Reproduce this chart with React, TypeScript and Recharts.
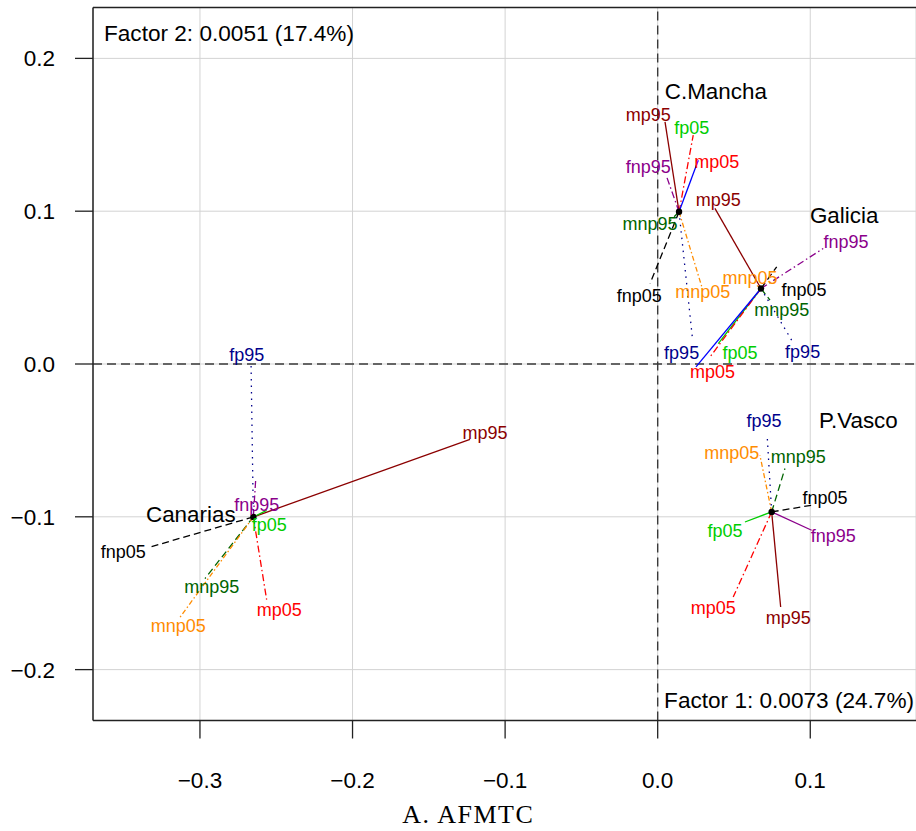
import { ScatterChart, Scatter, XAxis, YAxis, CartesianGrid, ReferenceLine } from "recharts";

const variables = ["mp95", "fp05", "mp05", "fnp95", "mnp95", "fnp05", "mnp05", "fp95"];
const groups = ["C.Mancha", "Galicia", "P.Vasco", "Canarias"];

// group centres and where their names sit
const groupX = [0.014, 0.0677, 0.0747, -0.265];
const groupY = [0.0996, 0.0494, -0.0968, -0.1001];
const groupLabelX = [0.0381, 0.1222, 0.1315, -0.306];
const groupLabelY = [0.1787, 0.0974, -0.0368, -0.0983];

// partial points (segment ends), same order as variables
const cmanchaEnds = [[0.0048, 0.1585], [0.0233, 0.1498], [0.0266, 0.1334], [0.0059, 0.1225], [0.008, 0.0935], [-0.005, 0.0527], [0.0288, 0.0509], [0.0229, 0.0156]];
const galiciaEnds = [[0.0375, 0.1018], [0.0397, 0.0134], [0.0343, 0.0046], [0.1085, 0.0756], [0.0736, 0.0418], [0.078, 0.0636], [0.0638, 0.0522], [0.0878, 0.0156]];
const pvascoEnds = [[0.0806, -0.159], [0.0572, -0.1034], [0.0495, -0.1525], [0.1009, -0.1088], [0.0834, -0.0684], [0.1009, -0.0924], [0.067, -0.0597], [0.0718, -0.0477]];
const canariasEnds = [[-0.123, -0.0494], [-0.2563, -0.0958], [-0.2563, -0.1542], [-0.2635, -0.0761], [-0.2967, -0.1404], [-0.3338, -0.1201], [-0.313, -0.1656], [-0.2665, -0.0008]];

// label points
const cmanchaLabels = [[-0.0062, 0.1629], [0.0223, 0.1548], [0.0387, 0.1323], [-0.0062, 0.129], [-0.005, 0.0915], [-0.0121, 0.0444], [0.0295, 0.0472], [0.0157, 0.0073]];
const galiciaLabels = [[0.0397, 0.1072], [0.0539, 0.0073], [0.036, -0.0052], [0.1234, 0.0799], [0.0813, 0.0357], [0.0959, 0.0488], [0.0605, 0.0566], [0.095, 0.0079]];
const pvascoLabels = [[0.0856, -0.166], [0.0441, -0.1088], [0.0364, -0.1594], [0.1151, -0.1121], [0.0921, -0.0608], [0.1096, -0.0874], [0.0485, -0.0582], [0.0697, -0.0368]];
const canariasLabels = [[-0.1132, -0.0451], [-0.2545, -0.1049], [-0.248, -0.1607], [-0.2628, -0.0918], [-0.2923, -0.1459], [-0.3502, -0.1226], [-0.3142, -0.171], [-0.2693, 0.0058]];

// extra unlabeled blue segment out of Galicia
const extraBlueEnd = [0.0251, -0.0019];

const xTicks = [-0.3, -0.2, -0.1, 0, 0.1];
const yTicks = [-0.2, -0.1, 0, 0.1, 0.2];
const X_MIN = -0.3701;
const X_MAX = 0.1693;
const Y_MIN = -0.2333;
const Y_MAX = 0.2333;

const allEnds = [cmanchaEnds, galiciaEnds, pvascoEnds, canariasEnds];
const allLabels = [cmanchaLabels, galiciaLabels, pvascoLabels, canariasLabels];

const SANS = "'Liberation Sans', Arial, Helvetica, sans-serif";

const labelColors: Record<string, string> = {
  mp95: "#8b0000",
  fp05: "#00cd00",
  mp05: "#ff0000",
  fnp95: "#8b008b",
  mnp95: "#006400",
  fnp05: "#000000",
  mnp05: "#ff8c00",
  fp95: "#00008b",
};

const lineStyles: Record<string, { stroke: string; dash?: string }> = {
  mp95: { stroke: "#8b0000" },
  fp05: { stroke: "#00cd00" },
  mp05: { stroke: "#ff0000", dash: "7 3 1.5 3" },
  fnp95: { stroke: "#8b008b", dash: "7 3 1.5 3" },
  fnp95solid: { stroke: "#8b008b" },
  mnp95: { stroke: "#006400", dash: "7 4" },
  fnp05: { stroke: "#000000", dash: "7 4" },
  mnp05: { stroke: "#ff8c00", dash: "5 2.5 1.5 2.5" },
  fp95: { stroke: "#00008b", dash: "1.5 5" },
  blue: { stroke: "#0000ff" },
};

// which line style each segment uses (per group, same order as variables)
const lineKeys = [
  ["mp95", "mp05", "blue", "fnp95", "mnp95", "fnp05", "mnp05", "fp95"],
  ["mp95", "fp05", "mp05", "fnp95", "mnp95", "fnp05", "mnp05", "fp95"],
  ["mp95", "fp05", "mp05", "fnp95solid", "mnp95", "fnp05", "mnp05", "fp95"],
  ["mp95", "fp05", "mp05", "fnp95", "mnp95", "fnp05", "mnp05", "fp95"],
];

const fmt = (v: number) => (v < 0 ? "\u2212" + Math.abs(v).toFixed(1) : v.toFixed(1));

const XTick = (props: any) => {
  const { x, y, payload } = props;
  return (
    <text x={x} y={y + 47} textAnchor="middle" fontFamily={SANS} fontSize={22.5} fill="#000">
      {fmt(payload.value)}
    </text>
  );
};

const YTick = (props: any) => {
  const { x, y, payload } = props;
  return (
    <text x={x - 18} y={y} dy="0.36em" textAnchor="end" fontFamily={SANS} fontSize={22.5} fill="#000">
      {fmt(payload.value)}
    </text>
  );
};

const AxisTitle = (props: any) => {
  const { viewBox } = props;
  return (
    <text
      x={viewBox.x + viewBox.width * 0.456}
      y={viewBox.y + 102.5}
      textAnchor="middle"
      fontFamily="'Liberation Serif', 'Times New Roman', serif"
      fontSize={26}
      letterSpacing={1.5}
      fill="#000"
    >
      A. AFMTC
    </text>
  );
};

const TextShape = (props: any) => {
  const { cx, cy, payload } = props;
  return (
    <text x={cx} y={cy} dy="0.35em" textAnchor="middle" fontFamily={SANS} fontSize={payload.size} fill={payload.color}>
      {payload.text}
    </text>
  );
};

const CentreShape = (props: any) => <circle cx={props.cx} cy={props.cy} r={3.2} fill="#000" />;

const NoteShape = (props: any) => {
  const { cx, cy, payload } = props;
  return (
    <text
      x={cx + payload.dx}
      y={cy + payload.dy}
      textAnchor={payload.anchor}
      fontFamily={SANS}
      fontSize={22.6}
      fill="#000"
    >
      {payload.text}
    </text>
  );
};

const varLabelData = allLabels.flatMap((list) =>
  list.map(([x, y], i) => ({ x, y, text: variables[i], color: labelColors[variables[i]], size: 18 }))
);
const groupLabelData = groups.map((g, i) => ({ x: groupLabelX[i], y: groupLabelY[i], text: g, color: "#000", size: 22.4 }));
const centreData = groups.map((g, i) => ({ x: groupX[i], y: groupY[i], name: g }));
const noteData = [
  { x: X_MIN, y: Y_MAX, text: "Factor 2: 0.0051 (17.4%)", dx: 11, dy: 33, anchor: "start" },
  { x: X_MAX, y: Y_MIN, text: "Factor 1: 0.0073 (24.7%)", dx: -2, dy: -12.5, anchor: "end" },
];

export default function App() {
  const segments: any[] = [];
  allEnds.forEach((ends, g) => {
    ends.forEach(([x, y], i) => {
      const st = lineStyles[lineKeys[g][i]];
      segments.push(
        <ReferenceLine
          key={`seg-${g}-${i}`}
          segment={[{ x: groupX[g], y: groupY[g] }, { x, y }]}
          stroke={st.stroke}
          strokeDasharray={st.dash}
          strokeWidth={1.3}
          ifOverflow="visible"
        />
      );
    });
  });
  const blue = lineStyles.blue;

  return (
    <div style={{ position: "absolute", left: 0, top: 0 }}>
      <ScatterChart width={916} height={831} margin={{ top: 7.5, right: 0, bottom: 0, left: 0 }}>
        <CartesianGrid stroke="#d3d3d3" strokeWidth={1} />
        <XAxis
          type="number"
          dataKey="x"
          domain={[X_MIN, X_MAX]}
          ticks={xTicks}
          allowDataOverflow
          height={110.5}
          tickSize={18}
          tick={<XTick />}
          tickLine={{ stroke: "#222", strokeWidth: 1.3 }}
          axisLine={{ stroke: "#222", strokeWidth: 1.5 }}
          label={<AxisTitle />}
        />
        <YAxis
          type="number"
          dataKey="y"
          domain={[Y_MIN, Y_MAX]}
          ticks={yTicks}
          allowDataOverflow
          width={93}
          tickSize={18}
          tick={<YTick />}
          tickLine={{ stroke: "#222", strokeWidth: 1.3 }}
          axisLine={{ stroke: "#222", strokeWidth: 1.5 }}
        />
        <ReferenceLine y={Y_MAX} stroke="#222" strokeWidth={1.5} />
        <ReferenceLine x={0} stroke="#3a3a3a" strokeWidth={1.4} strokeDasharray="9 5" />
        <ReferenceLine y={0} stroke="#3a3a3a" strokeWidth={1.4} strokeDasharray="9 5" />
        {segments}
        <ReferenceLine
          segment={[{ x: groupX[1], y: groupY[1] }, { x: extraBlueEnd[0], y: extraBlueEnd[1] }]}
          stroke={blue.stroke}
          strokeWidth={1.3}
          ifOverflow="visible"
        />
        <Scatter data={centreData} shape={<CentreShape />} isAnimationActive={false} />
        <Scatter data={varLabelData} shape={<TextShape />} isAnimationActive={false} />
        <Scatter data={groupLabelData} shape={<TextShape />} isAnimationActive={false} />
        <Scatter data={noteData} shape={<NoteShape />} isAnimationActive={false} />
      </ScatterChart>
    </div>
  );
}
